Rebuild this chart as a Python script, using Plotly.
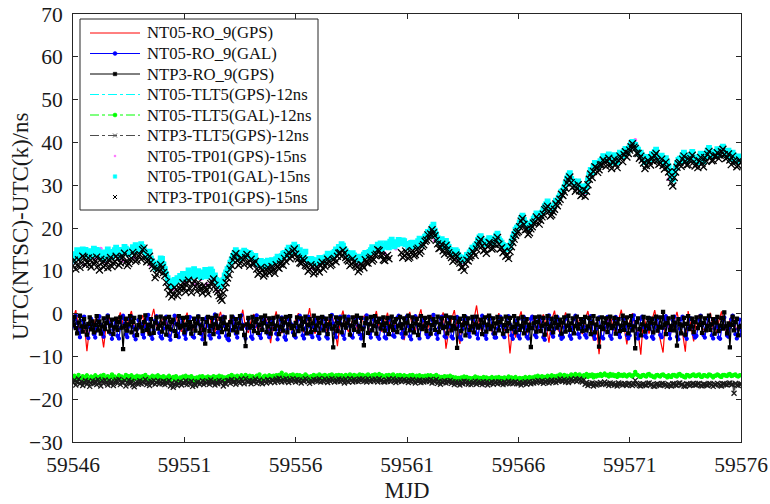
import numpy as np
import plotly.graph_objects as go

MJD_START = 59546.0
MJD_END = 59576.0


def mjd_grid(values):
    """Regular MJD sampling that spans the whole 30-day interval."""
    return np.linspace(MJD_START, MJD_END, len(values))


# ---- RO_9 links (ns) ----
# NT05 GPS, 3-hour samples
ro9_nt05_gps = [
    -1.2, 0.8, -3.1, -4.6, -1.8, -8.8, -2.9, -3.8,
    -1.5, -0.2, -3.4, -7.9, -2.2, -0.9, -3.0, -4.1,
    -1.9, 0.3, -2.6, -3.9, -1.1, 0.6, -3.3, -4.4,
    -2.0, -0.4, -3.6, -4.7, -1.6, 1.1, -2.8, -3.7,
    -1.4, -0.7, -3.2, -5.8, -2.1, -0.3, -3.5, -4.2,
    -1.7, 0.2, -2.9, -4.0, -1.3, -0.8, -3.1, -6.4,
    -2.3, -0.5, -3.7, -4.3, -1.5, 0.4, -2.7, -3.9,
    -1.8, -0.6, -3.0, -4.8, -2.0, 0.9, -3.4, -4.5,
    -1.6, -0.1, -3.3, -4.2, -1.2, -0.7, -2.6, -6.9,
    -2.1, 0.5, -3.1, -4.6, -1.7, -0.4, -3.6, -4.0,
    -1.3, 0.1, -2.8, -4.4, -1.9, 1.3, -3.2, -4.7,
    -2.2, -0.6, -3.5, -4.1, -1.4, -0.2, -2.9, -7.6,
    -1.6, 0.7, -3.0, -4.3, -2.3, -0.5, -3.3, -4.6,
    -1.1, -0.3, -2.7, -4.9, -1.8, 0.6, -3.4, -4.2,
    -2.0, 0.2, -3.2, -4.5, -1.5, -0.8, -2.8, -6.2,
    -1.9, 0.4, -3.6, -4.0, -1.2, 1.0, -3.1, -4.8,
    -2.1, -0.4, -2.9, -4.6, -1.7, 0.3, -8.2, -4.1,
    -1.4, 0.8, -3.5, -7.1, -2.0, -0.6, -2.7, -4.4,
    -1.6, 1.9, -3.0, -4.3, -1.3, -0.1, -3.4, -4.9,
    -2.2, 0.1, -3.2, -4.0, -1.8, -9.3, -2.9, -5.6,
    -1.5, 0.5, -3.3, -4.7, -2.1, -0.3, -3.0, -4.2,
    -1.7, -0.2, -2.8, -6.8, -1.4, 0.7, -3.6, -4.5,
    -2.0, 0.3, -3.1, -4.1, -1.6, -0.5, -3.2, -4.8,
    -1.3, 0.6, -3.4, -6.3, -1.9, -9.5, -2.7, -4.3,
    -2.1, -0.4, -3.0, -4.6, -1.5, 0.9, -3.3, -7.2,
    -1.8, 0.1, -3.5, -4.2, -9.6, -0.6, -2.9, -4.7,
    -1.6, 0.8, -3.1, -5.9, -9.1, -0.2, -3.4, -4.4,
    -2.0, 0.4, -2.8, -4.5, -8.9, 0.6, -3.0, -6.5,
    -1.5, -0.3, -3.3, -4.1, -2.1, 0.2, -3.6, -4.8,
    -1.9, 0.5, -3.2, -4.6, -1.3, -0.1, -3.1, -4.3,
    -2.4,
]
# NT05 GAL, 90-minute samples
ro9_nt05_gal = [
    -3.0, -1.4, -0.5, -2.2, -4.4, -5.5, -3.5, -1.6, -0.7, -2.8, -5.0, -5.7, -3.2, -1.2, -2.5, -4.8,
    -5.6, -3.6, -1.7, -0.6, -2.6, -4.3, -5.4, -3.1, -1.1, -0.4, -2.3, -4.7, -5.9, -3.7, -1.4, -2.9,
    -5.2, -5.8, -3.4, -1.0, -0.5, -2.4, -4.9, -5.5, -3.0, -1.3, -0.7, -3.1, -5.2, -6.0, -3.6, -1.5,
    -0.8, -2.5, -4.8, -5.6, -3.2, -1.2, -0.3, -2.8, -5.1, -5.9, -3.8, -1.6, -0.6, -2.3, -4.5, -5.4,
    -5.8, -3.5, -1.4, -0.7, -2.9, -5.2, -6.1, -3.9, -1.7, -0.5, -2.4, -4.7, -5.5, -3.3, -1.1, -2.6,
    -4.9, -5.9, -3.7, -1.5, -0.8, -3.0, -5.3, -5.6, -3.1, -1.3, -0.6, -2.5, -4.8, -6.0, -3.6, -1.4,
    -0.9, -2.8, -5.1, -5.8, -3.2, -1.1, -0.2, -2.3, -4.4, -5.5, -3.9, -1.7, -0.7, -2.9, -5.2, -5.9,
    -6.2, -3.8, -1.6, -0.8, -2.5, -4.7, -5.6, -3.3, -1.2, -0.4, -2.6, -5.1, -5.8, -3.4, -1.3, -3.1,
    -5.4, -5.9, -3.2, -1.1, -0.4, -2.8, -5.0, -5.7, -3.6, -1.4, -0.8, -2.4, -4.7, -5.5, -3.7, -1.6,
    -1.1, -3.0, -4.7, -6.0, -3.8, -1.5, -0.9, -2.8, -5.5, -6.1, -3.7, -1.3, -0.6, -2.5, -4.4, -5.2,
    -5.6, -3.3, -1.3, -0.5, -2.6, -5.1, -5.8, -3.4, -1.1, -0.7, -2.9, -4.8, -5.5, -3.2, -1.5, -2.8,
    -5.2, -5.9, -3.5, -1.4, -0.9, -3.0, -5.4, -5.8, -3.1, -1.2, -0.3, -2.3, -4.6, -5.5, -3.7, -1.5,
    -0.7, -2.6, -5.0, -5.9, -3.3, -1.3, -0.7, -2.9, -5.2, -5.6, -3.5, -1.6, -1.0, -2.8, -4.8, -5.8,
    -5.0, -3.2, -1.2, -0.4, -2.5, -4.7, -5.6, -3.7, -1.4, -0.8, -3.0, -5.4, -5.9, -3.4, -1.3, -2.6,
    -5.5, -5.8, -3.3, -1.4, -1.0, -2.8, -5.1, -5.4, -3.1, -1.0, -0.5, -2.4, -4.7, -5.6, -3.8, -1.5,
    -0.6, -2.9, -5.3, -6.0, -3.4, -1.3, -0.6, -2.6, -5.0, -5.8, -3.5, -1.6, -1.1, -3.1, -4.8, -5.5,
    -5.1, -3.7, -1.5, -0.3, -2.4, -4.8, -5.9, -3.3, -1.1, -0.7, -2.8, -5.3, -5.6, -3.2, -1.0, -3.0,
    -5.4, -5.8, -3.4, -1.2, -0.8, -2.9, -5.5, -6.0, -3.6, -1.4, -0.7, -2.5, -4.6, -5.4, -3.5, -1.3,
    -0.8, -2.6, -4.8, -5.8, -3.2, -1.5, -0.5, -2.8, -5.1, -5.9, -3.3, -1.3, -0.9, -3.0, -4.7, -5.6,
    -5.6, -3.5, -1.4, -0.7, -2.8, -5.0, -5.5, -3.2, -1.1, -0.6, -2.5, -5.1, -5.9, -3.8, -1.6, -2.9,
    -5.2, -5.8, -3.3, -1.3, -0.8, -3.1, -5.4, -5.8, -3.5, -1.2, -0.7, -2.8, -5.0, -5.5, -3.2, -1.4,
    -0.9, -3.0, -5.5, -6.1, -3.4, -1.1, -0.4, -2.5, -4.7, -5.4, -3.6, -1.5, -0.8, -2.8, -5.1, -5.9,
    -5.5, -3.2, -1.2, -0.7, -2.9, -5.2, -5.9, -3.3, -1.3, -0.5, -2.6, -4.8, -5.6, -3.5, -1.5, -3.1,
    -5.0, -5.6, -3.4, -1.3, -0.6, -2.5, -5.1, -5.9, -3.6, -1.4, -0.9, -3.0, -5.5, -5.8, -3.3, -1.2,
    -0.8, -2.8, -5.2, -5.9, -3.5, -1.5, -0.8, -2.6, -4.8, -5.5, -3.2, -1.1, -1.2, -2.9, -5.0, -5.8,
    -5.1, -3.3, -1.3, -0.4, -2.6, -4.7, -5.8, -3.6, -1.2, -0.7, -3.1, -5.2, -5.6, -3.4, -1.0, -2.5,
    -5.4, -5.9, -3.2, -1.4, -1.0, -2.8, -5.0, -5.5, -3.3, -1.3, -0.6, -2.4, -4.7, -5.8, -3.7, -1.6,
    -0.7, -2.9, -5.4, -6.0, -3.5, -1.3, -0.7, -2.5, -5.2, -5.9, -3.4, -1.2, -1.1, -3.0, -4.8, -5.6,
    -5.2, -3.4, -1.4, -0.5, -2.8, -5.0, -5.6, -3.3, -1.1, -0.8, -2.6, -5.1, -5.8, -3.5, -1.3, -3.0,
    -5.6, -5.9, -3.4, -1.5, -0.9, -2.9, -5.1, -5.4, -3.2, -1.3, -0.5, -2.5, -4.8, -5.8, -3.6, -1.4,
    -5.0,
]
# NTP3 GPS, 90-minute samples
ro9_ntp3_gps = [
    -2.6, -0.8, -3.4, -4.6, -2.1, -0.5, -3.0, -4.2, -1.3, -3.1, -4.9, -2.4, -0.9, -3.7, -1.8, -4.4,
    -2.7, -0.6, -3.9, -1.9, -4.7, -3.0, -1.1, -3.6, -2.2, -0.7, -4.2, -2.8, -1.4, -4.8, -3.2, -1.2,
    -3.8, -2.0, -0.9, -3.3, -8.3, -2.9, -1.2, -4.0, -2.5, -0.6, -4.4, -1.9, -1.0, -3.7, -5.0, -2.7,
    -0.8, -3.2, -4.1, -2.0, -0.4, -3.8, -2.6, -4.7, -1.3, -3.0, -4.5, -2.1, -0.9, -3.5, -2.8, -0.7,
    -4.2, -2.3, -1.1, -4.9, -3.1, -0.8, -3.7, -1.9, -1.4, -4.1, -5.2, -2.5, -0.6, -3.3, -2.9, -1.0,
    -4.4, -2.6, -0.9, -3.5, -2.0, -4.7, -3.0, -1.2, -4.0, -2.3, -0.7, -4.5, -2.8, -1.3, -3.8, -7.0,
    -2.0, -0.8, -4.1, -2.9, -1.0, -4.8, -2.5, -0.5, -3.4, -3.0, -1.2, -4.3, -2.2, -0.9, -3.7, -2.6,
    -4.9, -2.0, -0.7, -3.9, -3.1, -1.3, -4.4, -2.3, -0.6, -3.5, -2.8, -5.0, -7.6, -2.5, -1.0, -3.3,
    -2.9, -0.8, -4.1, -1.9, -1.3, -4.5, -2.6, -0.9, -3.8, -2.2, -0.5, -4.3, -3.0, -1.1, -4.7, -2.4,
    -1.0, -3.6, -2.8, -0.7, -4.8, -3.1, -1.2, -4.0, -2.1, -0.8, -4.4, -2.5, -0.6, -3.4, -2.9, -4.9,
    -2.2, -0.9, -4.1, -3.0, -1.1, -3.7, -1.9, -0.7, -4.6, -2.6, -1.3, -4.3, -2.3, -0.5, -3.8, -2.8,
    -1.0, -4.5, -2.1, -0.8, -3.9, -2.9, -1.2, -4.8, -2.5, -0.6, -3.5, -7.9, -3.0, -0.9, -4.1, -2.2,
    -1.1, -4.4, -2.6, -0.7, -3.3, -2.3, -1.4, -4.9, -2.8, -0.9, -3.8, -2.0, -0.5, -4.2, -3.0, -1.0,
    -3.6, -7.4, -2.2, -1.1, -4.5, -2.5, -0.8, -3.9, -2.9, -0.6, -4.7, -1.9, -1.2, -3.5, -2.6, -0.9,
    -4.0, -2.3, -1.0, -4.8, -3.0, -0.7, -3.8, -1.9, -1.3, -4.3, -2.8, -0.8, -3.4, -2.5, -1.1, -4.6,
    -2.1, -0.5, -3.9, -2.9, -0.9, -4.4, -2.3, -1.2, -5.0, -2.6, -0.6, -3.6, -3.0, -1.0, -4.1, -2.2,
    -0.8, -4.7, -2.7, -1.3, -3.8, -2.0, -0.7, -4.3, -2.5, -1.1, -3.4, -3.1, -0.5, -4.6, -2.3, -0.9,
    -3.9, -2.9, -1.0, -3.5, -8.0, -1.9, -1.2, -4.1, -2.6, -0.6, -5.1, -2.2, -1.1, -3.8, -3.0, -0.8,
    -4.4, -2.5, -0.7, -3.3, -2.8, -1.4, -4.8, -2.1, -0.9, -4.2, -2.6, -0.5, -3.6, -3.0, -1.1, -4.6,
    -2.3, -0.8, -3.9, -2.0, -1.2, -4.7, -2.7, -0.7, -4.1, -2.2, -1.0, -3.5, -3.1, -0.6, -4.4, -2.5,
    -1.1, -3.8, -2.9, -0.8, -4.6, -2.1, -1.3, -3.9, -2.6, -7.8, -3.4, -2.3, -0.9, -4.2, -2.0, -0.7,
    -4.1, -2.8, -1.0, -4.9, -2.5, -0.6, -3.6, -3.0, -1.2, -4.4, -2.2, -0.8, -3.3, -2.6, -1.4, -4.7,
    -2.1, -0.9, -4.2, -2.8, -0.5, -3.8, -2.3, -1.1, -4.6, -2.9, -0.7, -3.5, -2.5, -1.3, -4.1, -2.0,
    -0.8, -3.9, -3.0, -1.0, -4.8, -2.2, -0.6, -4.4, -2.6, -1.2, -7.7, -3.1, -0.9, -3.6, -2.1, -1.1,
    -4.3, -2.5, -0.7, -3.4, -2.9, -1.0, -4.7, -2.3, -1.3, -4.1, -2.8, -0.5, -3.8, -2.2, -0.9, -4.6,
    -2.6, -0.6, -3.9, -3.0, -8.1, -2.0, -1.1, -3.6, -5.1, -2.5, -0.8, -4.2, -2.8, -1.0, -3.5, -2.1,
    -1.2, -4.4, -2.3, -0.7, -4.0, -3.1, -0.9, -3.3, 0.4, -2.6, -4.8, -2.2, -1.1, -3.8, -2.9, -0.8,
    -3.9, -2.1, -7.5, -1.3, -2.5, -4.6, -2.8, -1.0, -4.9, -2.4, -0.6, -3.6, -3.0, -1.2, -4.3, -2.0,
    -0.9, -3.4, -2.6, -0.7, -4.5, -2.2, -1.1, -3.9, -2.9, -0.5, -3.8, -2.5, -1.3, -4.7, -2.1, -0.8,
    -4.1, -2.8, -1.0, -3.5, 0.3, -3.0, -4.6, -2.3, -7.9, -2.6, -0.7, -3.9, -2.0, -1.2, -5.1, -3.1,
    -2.9,
]

# ---- TLT5 links, shifted by -12 ns ----
# NT05 GPS, 6-hour samples
tlt5_nt05_gps = [
    -15.0, -14.7, -15.3, -14.9, -15.1, -14.6, -15.2, -14.8,
    -14.9, -15.3, -14.7, -15.0, -15.2, -14.8, -15.1, -14.6,
    -15.0, -15.4, -14.9, -15.2, -14.8, -15.1, -15.5, -14.9,
    -15.2, -14.7, -15.0, -15.3, -14.8, -15.1, -14.6, -14.9,
    -15.1, -14.7, -15.0, -14.8, -14.6, -14.9, -14.4, -14.7,
    -14.9, -14.5, -14.8, -14.6, -14.7, -14.9, -14.5, -14.8,
    -14.6, -14.9, -14.7, -14.5, -14.8, -14.6, -14.9, -14.4,
    -14.7, -14.9, -14.5, -14.8, -15.0, -14.6, -14.9, -14.7,
    -14.8, -15.1, -14.6, -15.0, -15.2, -14.9, -15.3, -15.0,
    -15.1, -15.4, -14.9, -15.2, -15.0, -15.3, -15.1, -14.9,
    -15.2, -15.4, -15.0, -14.8, -14.9, -14.6, -14.8, -14.5,
    -14.7, -14.4, -14.6, -14.8, -14.5, -14.3, -14.6, -14.4,
    -14.6, -14.3, -14.5, -14.4, -14.4, -14.1, -14.6, -14.3,
    -14.6, -14.4, -14.5, -14.7, -14.5, -14.3, -14.7, -14.4,
    -14.4, -14.6, -14.5, -14.7, -14.5, -14.3, -14.4, -14.6,
    -14.5,
]
# NT05 GAL, 90-minute samples
tlt5_nt05_gal = [
    -15.2, -14.5, -15.6, -14.9, -14.3, -15.3, -15.0, -14.6, -15.7, -14.8, -14.4, -15.4, -15.1, -14.7, -15.5, -14.9,
    -14.4, -15.2, -14.8, -15.6, -14.5, -15.0, -14.3, -15.3, -14.9, -14.6, -15.5, -14.8, -14.2, -15.1, -14.7, -15.4,
    -15.0, -14.4, -15.3, -14.7, -15.6, -14.9, -14.3, -15.2, -14.6, -15.0, -14.4, -15.5, -14.8, -15.1, -14.5, -15.3,
    -14.7, -15.4, -14.6, -15.0, -14.3, -15.2, -14.8, -15.6, -14.9, -14.5, -15.3, -14.7, -15.1, -14.4, -15.0, -14.8,
    -15.3, -14.6, -15.5, -14.9, -15.1, -14.5, -15.7, -15.0, -14.8, -15.4, -14.6, -15.2, -15.6, -14.9, -15.3, -14.7,
    -15.0, -14.5, -15.4, -14.8, -15.2, -14.6, -15.6, -15.0, -15.8, -14.9, -15.3, -14.7, -15.1, -14.6, -15.5, -14.9,
    -15.1, -14.7, -15.3, -14.9, -15.5, -14.6, -15.2, -14.8, -15.4, -14.5, -15.0, -14.7, -15.6, -14.9, -15.2, -14.8,
    -14.6, -15.1, -14.3, -15.0, -14.7, -15.4, -14.5, -14.9, -15.2, -14.4, -14.8, -15.1, -14.3, -14.7, -15.0, -14.5,
    -15.3, -14.6, -14.9, -15.2, -14.5, -14.8, -14.2, -15.0, -15.3, -14.7, -14.5, -15.1, -14.8, -14.4, -15.0, -14.6,
    -14.5, -15.0, -14.4, -14.9, -14.3, -14.7, -13.8, -14.6, -14.9, -14.2, -14.7, -15.0, -14.4, -14.8, -14.2, -14.6,
    -14.9, -14.3, -14.7, -14.4, -15.1, -14.6, -14.9, -14.2, -14.5, -14.8, -15.2, -14.6, -14.9, -14.3, -14.7, -14.5,
    -14.6, -14.2, -14.9, -14.5, -14.8, -14.3, -14.7, -15.0, -14.4, -14.8, -14.2, -14.6, -15.0, -14.4, -14.7, -14.3,
    -14.8, -14.4, -14.6, -15.1, -14.3, -14.7, -14.9, -14.2, -14.6, -14.9, -14.3, -14.7, -14.5, -14.8, -14.2, -14.6,
    -14.3, -14.7, -14.5, -14.9, -14.2, -14.6, -14.8, -14.4, -14.7, -14.2, -14.5, -14.9, -14.1, -14.6, -14.4, -14.8,
    -14.9, -14.4, -14.7, -14.3, -14.8, -14.5, -14.2, -14.6, -15.0, -14.4, -14.7, -14.3, -14.8, -14.6, -14.4, -14.7,
    -14.6, -15.0, -14.4, -14.8, -14.3, -14.7, -15.1, -14.5, -14.8, -14.4, -15.0, -14.6, -14.9, -14.5, -14.7, -14.4,
    -14.8, -14.4, -15.1, -14.6, -14.9, -14.3, -15.2, -14.7, -15.4, -14.8, -15.0, -14.6, -15.1, -14.7, -14.9, -14.5,
    -15.2, -14.8, -15.5, -14.9, -15.3, -15.0, -15.6, -14.9, -15.3, -14.7, -15.1, -14.8, -15.4, -15.0, -15.5, -15.1,
    -15.0, -14.7, -15.4, -14.9, -15.2, -15.0, -15.5, -14.8, -15.3, -14.9, -15.6, -15.1, -15.2, -14.8, -15.4, -15.0,
    -14.9, -15.3, -14.8, -15.2, -15.0, -15.5, -14.9, -15.3, -15.1, -14.7, -15.2, -14.9, -15.3, -15.0, -14.8, -15.2,
    -15.3, -15.0, -15.6, -15.1, -15.2, -14.8, -15.4, -15.0, -14.8, -15.3, -14.9, -15.1, -14.7, -15.0, -14.5, -14.8,
    -15.0, -14.6, -15.2, -14.8, -14.9, -14.5, -15.1, -14.7, -14.4, -14.9, -14.6, -15.0, -14.5, -14.7, -14.2, -14.6,
    -14.7, -14.3, -14.9, -14.5, -15.0, -14.6, -14.2, -14.7, -14.5, -14.1, -14.8, -14.4, -14.2, -14.6, -14.9, -14.4,
    -14.5, -14.1, -14.8, -14.3, -14.6, -14.2, -14.9, -14.4, -14.7, -14.3, -14.5, -14.1, -14.6, -14.3, -14.0, -14.4,
    -14.3, -14.7, -14.1, -14.5, -14.2, -14.6, -14.4, -14.8, -14.1, -14.5, -14.3, -14.6, -14.2, -14.5, -14.7, -14.3,
    -14.2, -14.5, -14.7, -14.3, -13.6, -14.2, -14.4, -14.7, -14.8, -14.4, -14.3, -14.6, -14.7, -14.2, -14.1, -14.5,
    -14.5, -14.8, -14.9, -14.4, -14.3, -14.6, -14.7, -14.3, -14.2, -14.5, -14.6, -14.9, -14.4, -14.7, -14.8, -14.3,
    -14.3, -14.6, -14.7, -14.2, -14.1, -14.5, -14.5, -14.8, -14.9, -14.3, -14.4, -14.7, -14.6, -14.3, -14.2, -14.6,
    -14.6, -14.3, -14.2, -14.7, -14.8, -14.4, -14.4, -14.6, -14.7, -14.2, -14.3, -14.6, -14.9, -14.5, -14.5, -14.2,
    -14.4, -14.7, -14.8, -14.3, -14.3, -14.5, -14.6, -14.2, -14.1, -14.6, -14.5, -14.3, -14.2, -14.6, -14.7, -14.4,
    -14.4,
]
# NTP3 GPS, 90-minute samples
tlt5_ntp3_gps = [
    -16.2, -15.5, -16.7, -16.0, -15.3, -16.4, -15.9, -16.8, -16.1, -15.6, -16.5, -15.8, -17.0, -16.2, -15.7, -16.4,
    -15.8, -16.6, -15.4, -16.2, -16.9, -15.7, -16.3, -15.5, -16.1, -16.7, -15.6, -16.4, -15.9, -16.8, -16.0, -15.5,
    -16.3, -15.4, -16.6, -15.9, -16.2, -15.6, -16.9, -16.1, -15.5, -16.4, -15.8, -16.7, -17.1, -16.2, -15.9, -16.5,
    -15.7, -16.4, -15.9, -16.2, -15.4, -16.6, -16.0, -16.8, -15.8, -16.3, -15.6, -16.5, -16.1, -15.7, -16.4, -15.9,
    -16.4, -15.8, -16.6, -16.0, -16.3, -15.6, -16.9, -16.2, -17.2, -16.5, -16.0, -16.8, -16.4, -15.9, -16.7, -16.1,
    -16.3, -15.7, -16.6, -16.0, -16.5, -15.8, -17.0, -16.3, -16.8, -16.1, -15.9, -16.5, -16.2, -15.7, -16.6, -16.0,
    -16.2, -15.8, -16.5, -15.5, -16.3, -15.9, -16.7, -16.0, -16.4, -15.6, -16.2, -15.8, -16.9, -16.1, -16.5, -15.7,
    -15.6, -16.3, -15.4, -16.1, -15.8, -16.5, -15.5, -16.0, -16.2, -15.3, -15.9, -16.4, -15.2, -15.8, -16.0, -15.6,
    -16.4, -15.7, -16.0, -15.3, -16.3, -15.8, -15.5, -16.1, -16.4, -15.6, -15.9, -16.2, -15.4, -15.8, -16.1, -15.5,
    -15.6, -16.1, -15.3, -15.9, -15.1, -15.7, -16.0, -15.4, -15.9, -15.2, -15.7, -16.1, -15.4, -15.8, -15.2, -15.6,
    -16.0, -15.4, -15.8, -15.5, -16.2, -15.6, -15.9, -15.2, -15.5, -15.9, -16.3, -15.6, -16.0, -15.4, -15.7, -15.5,
    -15.8, -15.2, -16.0, -15.6, -15.9, -15.3, -15.7, -16.1, -15.4, -15.9, -15.2, -15.6, -16.0, -15.5, -15.8, -15.3,
    -15.9, -15.4, -15.7, -16.2, -15.3, -15.8, -16.0, -15.2, -15.6, -16.0, -15.4, -15.8, -15.5, -15.9, -15.3, -15.7,
    -15.3, -15.8, -15.5, -16.0, -15.2, -15.7, -15.9, -15.4, -15.8, -15.3, -15.6, -16.0, -15.2, -15.7, -15.5, -15.9,
    -16.0, -15.5, -15.8, -15.3, -15.9, -15.6, -15.2, -15.7, -16.1, -15.5, -15.8, -15.4, -15.9, -15.6, -15.4, -15.8,
    -15.7, -16.1, -15.5, -15.9, -15.4, -15.8, -16.2, -15.6, -15.9, -15.5, -16.1, -15.7, -16.0, -15.6, -15.8, -15.5,
    -15.9, -15.4, -16.2, -15.7, -16.0, -15.4, -16.3, -15.8, -16.5, -15.9, -16.1, -15.7, -16.2, -15.8, -16.0, -15.6,
    -16.3, -15.9, -16.6, -16.0, -16.4, -16.1, -16.7, -16.0, -16.4, -15.8, -16.2, -15.9, -16.5, -16.1, -16.6, -16.2,
    -16.1, -15.8, -16.5, -16.0, -16.3, -16.1, -16.6, -15.9, -16.4, -16.0, -16.7, -16.2, -16.3, -15.9, -16.5, -16.1,
    -16.0, -16.4, -15.9, -16.3, -16.1, -16.6, -16.0, -16.4, -16.2, -15.8, -16.3, -16.0, -16.4, -16.1, -15.9, -16.3,
    -16.4, -16.1, -16.7, -16.2, -16.3, -15.9, -16.5, -16.1, -15.9, -16.4, -16.0, -16.2, -15.8, -16.1, -15.6, -15.9,
    -16.1, -15.7, -16.3, -15.9, -16.0, -15.6, -16.2, -15.8, -15.5, -16.0, -15.7, -16.1, -15.6, -15.8, -15.3, -15.7,
    -15.8, -15.4, -16.0, -15.6, -16.1, -15.7, -15.3, -15.8, -15.6, -15.2, -15.9, -15.5, -15.3, -15.7, -16.0, -15.5,
    -16.5, -16.1, -16.8, -16.3, -16.6, -16.2, -16.9, -16.4, -16.7, -16.3, -16.5, -16.1, -16.6, -16.3, -16.0, -16.4,
    -16.4, -16.8, -16.2, -16.6, -16.3, -16.7, -16.5, -16.9, -16.2, -16.6, -16.4, -16.7, -16.3, -16.6, -16.8, -16.4,
    -16.3, -16.6, -16.8, -16.4, -15.6, -16.3, -16.5, -16.8, -16.9, -16.5, -16.4, -16.7, -16.8, -16.3, -16.2, -16.6,
    -16.6, -16.9, -17.0, -16.5, -16.4, -16.7, -16.8, -16.4, -16.3, -16.6, -16.7, -17.0, -16.5, -16.8, -16.9, -16.4,
    -16.4, -16.7, -16.8, -16.3, -16.2, -16.6, -16.6, -16.9, -17.0, -16.4, -16.5, -16.8, -16.7, -16.4, -16.3, -16.7,
    -16.7, -16.4, -16.3, -16.8, -16.9, -16.5, -16.5, -16.7, -16.8, -16.3, -16.4, -16.7, -17.0, -16.6, -16.6, -16.3,
    -16.5, -16.8, -16.9, -16.4, -16.4, -16.6, -16.7, -16.3, -16.2, -16.6, -16.5, -18.6, -16.3, -16.7, -16.8, -16.5,
    -16.4,
]

# ---- TP01 links, shifted by -15 ns ----
# NT05 GPS, 6-hour samples
tp01_nt05_gps = [
    12.1, 13.9, 11.4, 14.6, 12.8, 15.2, 11.9, 13.4,
    13.6, 12.4, 14.8, 13.1, 15.3, 13.7, 11.2, 10.3,
    11.6, 7.2, 5.8, 7.9, 7.4, 8.6, 6.7, 8.1,
    6.9, 8.3, 5.2, 8.4, 10.2, 14.1, 12.9, 14.2,
    13.3, 11.2, 10.8, 11.6, 11.3, 12.8, 14.1, 15.4,
    14.6, 12.9, 11.8, 10.7, 11.4, 12.6, 12.8, 14.3,
    15.6, 13.4, 12.9, 11.5, 12.3, 13.8, 14.2, 15.6,
    14.1, 16.3, 15.2, 16.8, 15.4, 16.1, 15.9, 17.8,
    18.9, 17.1, 16.2, 15.6, 14.2, 12.7, 11.9, 14.1,
    15.3, 17.4, 16.1, 17.2, 17.6, 15.2, 15.3, 18.8,
    20.1, 21.2, 19.8, 22.7, 22.6, 25.4, 24.3, 26.9,
    28.4, 31.9, 30.4, 28.8, 28.2, 33.4, 34.2, 35.7,
    36.2, 36.1, 36.9, 37.8, 39.1, 40.6, 36.3, 36.1,
    37.2, 36.6, 35.7, 31.4, 32.9, 36.4, 35.8, 36.7,
    35.6, 37.2, 37.4, 37.1, 37.3, 37.6, 36.2, 35.7,
    36.1,
]
# NT05 GAL, 90-minute samples
tp01_nt05_gal = [
    12.4, 13.9, 13.6, 14.8, 13.1, 14.4, 14.2, 15.0, 13.8, 14.9, 14.5, 13.7, 13.3, 14.6, 14.1, 15.2,
    13.7, 14.9, 14.6, 13.8, 13.4, 14.3, 12.8, 13.6, 13.9, 15.0, 14.3, 13.5, 13.2, 14.4, 14.8, 15.4,
    14.1, 14.9, 13.5, 14.2, 14.7, 15.6, 15.2, 14.4, 13.9, 14.8, 14.4, 15.5, 15.3, 16.0, 14.6, 15.4,
    15.1, 16.2, 15.6, 14.8, 14.3, 13.4, 13.8, 14.5, 12.9, 12.2, 11.7, 10.9, 10.6, 11.3, 11.9, 12.9,
    12.8, 11.5, 10.4, 9.2, 8.3, 7.6, 7.1, 6.4, 6.6, 7.9, 7.4, 8.3, 7.9, 8.8, 8.6, 9.3,
    8.1, 8.9, 9.2, 10.1, 8.4, 9.0, 9.6, 10.4, 8.8, 9.5, 9.9, 8.9, 8.5, 9.6, 9.3, 10.2,
    8.7, 9.6, 9.1, 10.3, 9.8, 8.6, 8.9, 7.9, 7.6, 6.9, 6.4, 7.1, 7.8, 8.9, 9.6, 10.4,
    10.8, 11.9, 12.6, 13.5, 14.1, 14.8, 13.6, 12.9, 13.2, 14.3, 13.9, 14.7, 14.4, 13.6, 13.5, 14.2,
    13.8, 13.1, 12.9, 13.5, 12.1, 11.6, 11.4, 12.3, 11.9, 11.0, 11.2, 12.1, 12.4, 11.8, 11.6, 12.5,
    11.8, 12.4, 12.7, 13.3, 12.3, 12.9, 13.4, 14.0, 14.2, 13.6, 14.8, 15.4, 14.1, 14.9, 15.5, 16.1,
    15.1, 15.6, 14.2, 14.8, 13.4, 12.9, 13.9, 14.5, 12.8, 12.3, 12.1, 12.8, 12.6, 11.9, 11.7, 12.5,
    12.2, 13.0, 12.9, 12.3, 12.4, 13.1, 13.3, 14.0, 13.8, 13.1, 13.2, 14.1, 14.4, 15.0, 14.8, 15.6,
    15.4, 16.2, 15.9, 15.1, 14.6, 14.2, 13.9, 13.2, 13.3, 14.1, 13.6, 12.9, 12.7, 13.3, 12.4, 12.9,
    13.1, 13.8, 14.2, 13.5, 13.6, 14.4, 14.8, 15.5, 14.4, 15.0, 15.3, 16.1, 15.9, 16.4, 15.1, 15.8,
    15.6, 16.4, 16.2, 15.5, 16.8, 17.3, 16.1, 15.7, 16.7, 16.2, 17.2, 16.6, 16.4, 17.1, 16.9, 16.2,
    16.3, 15.4, 15.8, 16.5, 16.6, 15.9, 15.7, 16.4, 16.9, 17.5, 16.2, 17.1, 17.4, 18.0, 18.3, 19.1,
    18.6, 19.5, 20.2, 20.8, 19.4, 18.5, 17.6, 16.9, 16.8, 17.4, 16.1, 15.6, 17.0, 16.3, 15.6, 14.9,
    14.6, 14.0, 13.9, 14.8, 14.5, 13.6, 13.2, 12.6, 12.4, 12.9, 13.1, 13.7, 13.8, 14.3, 14.7, 15.4,
    15.4, 15.9, 16.3, 17.2, 17.8, 18.1, 16.9, 16.3, 16.2, 17.1, 16.8, 17.6, 17.5, 16.8, 16.6, 17.3,
    18.2, 18.7, 17.4, 16.9, 16.6, 16.0, 15.8, 15.2, 15.1, 15.6, 15.9, 16.8, 17.8, 18.6, 19.6, 20.1,
    20.4, 21.3, 22.3, 22.9, 21.9, 21.2, 20.8, 20.1, 20.2, 20.9, 21.5, 22.2, 22.6, 23.4, 23.2, 22.7,
    22.9, 23.6, 24.3, 25.1, 25.6, 26.2, 24.8, 24.1, 24.2, 24.9, 25.5, 26.4, 26.3, 27.1, 27.6, 28.5,
    28.7, 29.5, 30.4, 31.6, 32.3, 32.8, 31.5, 30.7, 30.9, 30.1, 30.2, 30.9, 29.6, 28.8, 28.9, 29.7,
    28.6, 29.8, 31.2, 32.5, 33.6, 33.0, 34.4, 35.2, 35.1, 34.3, 34.8, 35.6, 35.9, 36.8, 36.5, 35.9,
    36.6, 37.2, 35.8, 35.3, 36.3, 37.0, 35.9, 35.4, 36.7, 37.6, 37.3, 36.8, 37.9, 38.5, 37.6, 38.3,
    38.9, 39.6, 40.1, 39.5, 39.4, 38.6, 38.3, 37.4, 37.6, 36.9, 36.2, 35.4, 35.7, 36.6, 36.4, 35.9,
    37.3, 36.8, 37.8, 38.3, 36.8, 36.0, 36.1, 36.9, 35.7, 35.1, 36.3, 35.4, 34.4, 33.2, 31.9, 31.3,
    32.8, 34.0, 35.1, 35.9, 36.2, 35.6, 37.0, 37.6, 36.6, 35.8, 35.9, 36.8, 37.1, 37.8, 36.5, 35.7,
    35.9, 35.4, 36.6, 37.4, 36.1, 35.6, 37.3, 36.8, 38.1, 38.7, 37.4, 36.8, 36.9, 37.7, 37.8, 38.4,
    37.1, 37.9, 38.5, 39.0, 38.0, 37.2, 37.3, 38.1, 36.8, 36.1, 37.6, 36.9, 36.5, 35.6, 35.8, 36.7,
    36.4,
]
# NTP3 GPS, 90-minute samples (no solution for most of MJD 59560)
tp01_ntp3_gps = [
    11.2, 12.5, 10.4, 11.3, 12.6, 10.8, 11.8, 13.4, 13.1, 11.4, 12.0, 13.0, 11.5, 10.9, 12.9, 11.6,
    12.3, 13.2, 11.1, 10.2, 12.7, 11.9, 10.9, 12.5, 11.6, 10.7, 12.4, 13.1, 11.0, 11.8, 12.2, 13.4,
    12.8, 11.3, 11.9, 12.9, 13.3, 14.1, 12.1, 11.2, 11.7, 12.6, 12.9, 14.3, 13.6, 12.2, 12.5, 13.5,
    13.8, 12.7, 14.9, 15.3, 13.2, 12.1, 12.4, 13.4, 12.0, 11.2, 10.6, 8.4, 9.1, 10.3, 9.8, 11.4,
    10.7, 9.6, 8.9, 7.3, 6.2, 4.6, 5.3, 3.9, 4.4, 6.1, 5.6, 4.2, 4.9, 5.8, 6.4, 7.2,
    6.0, 5.1, 7.1, 7.8, 5.8, 4.9, 6.9, 7.6, 6.3, 5.2, 7.3, 6.4, 5.7, 4.8, 6.6, 6.1,
    5.4, 4.6, 6.2, 7.0, 7.4, 8.1, 6.6, 5.7, 5.1, 4.2, 3.6, 3.1, 4.8, 6.1, 7.2, 8.3,
    9.1, 10.4, 11.2, 12.5, 13.3, 14.0, 12.4, 11.3, 11.8, 13.0, 12.6, 11.5, 13.1, 13.8, 11.9, 11.1,
    12.7, 11.8, 11.6, 12.2, 10.4, 9.2, 9.6, 10.7, 10.1, 8.8, 9.3, 10.2, 10.8, 9.5, 9.9, 11.0,
    10.2, 9.4, 11.4, 10.8, 10.6, 11.6, 12.1, 11.3, 12.9, 12.2, 13.6, 14.3, 12.8, 13.5, 14.6, 15.1,
    13.9, 13.2, 12.8, 11.9, 11.7, 12.8, 12.4, 11.3, 11.1, 9.9, 10.3, 11.4, 10.9, 9.3, 9.8, 10.9,
    10.6, 9.7, 11.3, 12.0, 10.4, 11.1, 11.8, 12.7, 12.2, 11.2, 11.5, 12.6, 12.9, 12.1, 13.4, 14.1,
    14.2, 13.4, 14.8, 14.1, 13.1, 12.6, 12.3, 11.2, 11.6, 12.8, 12.1, 11.3, 10.9, 9.8, 10.4, 11.5,
    11.3, 10.7, 12.6, 11.9, 11.8, 12.9, 13.2, 12.3, 12.7, 13.6, 13.9, 14.9, 14.7, 13.8, 13.5, 12.6,
    12.4, 13.3, 13.6, 12.8, None, None, None, None, None, None, None, None, 14.2, 13.1, 13.5, 14.6,
    14.1, 12.9, 13.2, 14.3, 14.7, 13.5, 13.8, 15.0, 15.3, 14.1, 14.6, 15.7, 16.1, 16.9, 17.2, 18.4,
    17.4, 18.6, 19.6, 18.9, 18.2, 17.1, 16.3, 15.2, 15.4, 16.2, 14.7, 13.9, 15.9, 15.0, 14.2, 13.6,
    13.1, 12.2, 12.6, 13.7, 13.4, 12.4, 11.8, 10.8, 10.9, 10.1, 11.6, 12.5, 12.3, 13.1, 13.5, 14.6,
    14.2, 13.6, 15.1, 16.0, 16.7, 17.3, 15.8, 14.7, 14.9, 14.1, 15.6, 16.6, 16.4, 15.1, 15.3, 16.2,
    17.1, 17.8, 16.2, 15.1, 15.4, 14.2, 14.6, 13.4, 13.7, 12.9, 14.5, 15.6, 16.6, 17.4, 18.3, 18.9,
    19.2, 20.3, 21.6, 22.2, 20.8, 19.6, 19.7, 18.5, 18.9, 19.8, 20.3, 21.1, 21.4, 22.6, 22.1, 20.9,
    21.8, 22.6, 23.2, 24.3, 24.6, 25.1, 23.9, 22.8, 23.1, 23.8, 24.4, 25.6, 25.2, 26.1, 26.7, 27.9,
    27.6, 28.4, 29.3, 30.5, 31.2, 31.9, 30.6, 29.5, 29.8, 28.6, 29.2, 30.1, 28.7, 27.6, 27.9, 28.9,
    27.4, 28.6, 30.1, 31.4, 32.6, 31.8, 33.2, 34.3, 34.1, 33.0, 33.6, 34.7, 34.8, 35.9, 35.4, 34.4,
    35.6, 36.3, 34.7, 33.9, 35.3, 36.1, 34.9, 34.1, 35.8, 36.8, 36.4, 35.5, 37.1, 37.8, 36.6, 37.4,
    38.2, 39.0, 39.7, 38.9, 38.6, 37.5, 37.4, 36.3, 36.8, 35.9, 35.2, 33.9, 34.6, 35.8, 35.5, 34.7,
    36.4, 35.6, 36.9, 37.4, 35.8, 34.9, 35.2, 36.1, 34.6, 33.8, 35.4, 34.2, 33.1, 31.9, 30.6, 29.8,
    31.8, 33.1, 34.2, 35.0, 35.3, 34.4, 36.1, 36.8, 35.6, 34.7, 34.8, 35.9, 36.2, 37.0, 35.4, 34.5,
    34.9, 34.1, 35.7, 36.5, 35.1, 34.3, 36.4, 35.6, 37.2, 37.9, 36.5, 35.7, 35.8, 36.7, 36.9, 37.6,
    36.2, 37.0, 37.8, 38.4, 37.1, 36.2, 36.4, 37.3, 35.9, 34.8, 36.8, 35.7, 35.4, 34.3, 34.6, 35.9,
    35.3,
]

x_ticks = [59546, 59551, 59556, 59561, 59566, 59571, 59576]
y_ticks = [-30, -20, -10, 0, 10, 20, 30, 40, 50, 60, 70]

SERIF = "Liberation Serif, Times New Roman, serif"
INK = "#1a1a1a"

# Series styling: (data, name, line colour, dash, line width,
#                  marker symbol, marker size, marker colour, show line)
SERIES = [
    (ro9_nt05_gps, "NT05-RO_9(GPS)", "#ff0000", "solid", 1.2, None, 0, None, True),
    (ro9_nt05_gal, "NT05-RO_9(GAL)", "#0000ff", "solid", 1.3, "circle", 3, "#0000ff", True),
    (ro9_ntp3_gps, "NTP3-RO_9(GPS)", "#000000", "solid", 1.3, "square", 3, "#000000", True),
    (tlt5_nt05_gps, "NT05-TLT5(GPS)-12ns", "#00ffff", "dashdot", 1.0, None, 0, None, True),
    (tlt5_nt05_gal, "NT05-TLT5(GAL)-12ns", "#00ff00", "dashdot", 1.3, "circle", 3, "#00ff00", True),
    (tlt5_ntp3_gps, "NTP3-TLT5(GPS)-12ns", "#4d4d4d", "dashdot", 1.4, "x-thin", 5, "#1a1a1a", True),
    (tp01_nt05_gps, "NT05-TP01(GPS)-15ns", None, None, 0, "circle", 2.5, "#ff66ff", False),
    (tp01_nt05_gal, "NT05-TP01(GAL)-15ns", None, None, 0, "square", 4.5, "#00ffff", False),
    (tp01_ntp3_gps, "NTP3-TP01(GPS)-15ns", None, None, 0, "x-thin", 7, "#000000", False),
]

fig = go.Figure()
for data, name, lcol, dash, lw, sym, msize, mcol, has_line in SERIES:
    if has_line:
        mode = "lines+markers" if sym else "lines"
    else:
        mode = "markers"
    kw = dict(x=mjd_grid(data), y=data, name=name, mode=mode, showlegend=False)
    if has_line:
        kw["line"] = dict(color=lcol, width=lw, dash=dash)
    if sym:
        kw["marker"] = dict(symbol=sym, size=msize, color=mcol,
                            line=dict(width=1.3, color=mcol))
    fig.add_trace(go.Scatter(**kw))

# ---- Legend box (drawn by hand so rows sit as tightly as MATLAB's) ----
PLOT_L, PLOT_R, PLOT_T, PLOT_B = 73, 741, 14, 442
FIG_W, FIG_H = 770, 504


def px(x):
    return (x - PLOT_L) / (PLOT_R - PLOT_L)


def py(y):
    return (PLOT_B - y) / (PLOT_B - PLOT_T)


LEG_LEFT, LEG_RIGHT, LEG_TOP, LEG_BOTTOM = 80, 318, 19, 210
ROW0, ROW_STEP = 33, 20.5
SYM_X0, SYM_X1, TEXT_X = 90, 140, 145

shapes = [dict(type="rect", xref="paper", yref="paper", layer="above",
               x0=px(LEG_LEFT), x1=px(LEG_RIGHT),
               y0=py(LEG_BOTTOM), y1=py(LEG_TOP),
               fillcolor="white", line=dict(color="#262626", width=1))]
annotations = []


def marker_shapes(sym, size, color, cx, cy):
    h = size / 2.0
    if sym == "circle":
        return [dict(type="circle", x0=px(cx - h), x1=px(cx + h),
                     y0=py(cy + h), y1=py(cy - h),
                     fillcolor=color, line=dict(color=color, width=0.5))]
    if sym == "square":
        return [dict(type="rect", x0=px(cx - h), x1=px(cx + h),
                     y0=py(cy + h), y1=py(cy - h),
                     fillcolor=color, line=dict(color=color, width=0.5))]
    # "x" glyph as two short strokes
    return [dict(type="line", x0=px(cx - h), x1=px(cx + h),
                 y0=py(cy - h), y1=py(cy + h), line=dict(color=color, width=1)),
            dict(type="line", x0=px(cx - h), x1=px(cx + h),
                 y0=py(cy + h), y1=py(cy - h), line=dict(color=color, width=1))]


for i, (data, name, lcol, dash, lw, sym, msize, mcol, has_line) in enumerate(SERIES):
    cy = ROW0 + i * ROW_STEP
    if has_line:
        shapes.append(dict(type="line", x0=px(SYM_X0), x1=px(SYM_X1),
                           y0=py(cy), y1=py(cy),
                           line=dict(color=lcol, width=1, dash=dash)))
    if sym:
        gsize = {"circle": 4, "square": 3.5, "x-thin": 4}[sym]
        if sym == "circle" and not has_line:
            gsize = 2
        if sym == "x-thin" and has_line:
            mcol = "#555555"
        shapes.extend(marker_shapes(sym, gsize, mcol, (SYM_X0 + SYM_X1) / 2, cy))
    annotations.append(dict(text=name, x=px(TEXT_X), y=py(cy),
                            xref="paper", yref="paper", xanchor="left",
                            yanchor="middle", showarrow=False,
                            font=dict(family=SERIF, size=16.7, color="#111111")))

for s in shapes[1:]:
    s.update(xref="paper", yref="paper", layer="above")

# Y-axis title, set as a rotated label a fixed distance left of the axis
annotations.append(dict(text="UTC(NTSC)-UTC(k)/ns", textangle=-90,
                        x=px(20), y=py(227), xref="paper", yref="paper",
                        xanchor="center", yanchor="middle", showarrow=False,
                        font=dict(family=SERIF, size=23, color=INK)))

axis_common = dict(
    showline=True, linecolor="#262626", linewidth=1, mirror="ticks",
    ticks="inside", ticklen=5, tickcolor="#262626", showgrid=False,
    zeroline=False, automargin=False,
    tickfont=dict(family=SERIF, size=21.5, color=INK),
)

fig.update_layout(
    width=FIG_W, height=FIG_H,
    margin=dict(l=PLOT_L, r=FIG_W - PLOT_R, t=PLOT_T, b=FIG_H - PLOT_B),
    paper_bgcolor="white", plot_bgcolor="white",
    font=dict(family=SERIF, color=INK),
    showlegend=False,
    shapes=shapes,
    annotations=annotations,
    xaxis=dict(range=[MJD_START, MJD_END], tickvals=x_ticks,
               ticktext=[str(v) for v in x_ticks], ticklabelstandoff=3,
               title=dict(text="MJD", font=dict(family=SERIF, size=22.5),
                          standoff=6),
               **axis_common),
    yaxis=dict(range=[-30, 70], tickvals=y_ticks, ticklabelstandoff=5,
               **axis_common),
)

fig.write_html("out.html")
